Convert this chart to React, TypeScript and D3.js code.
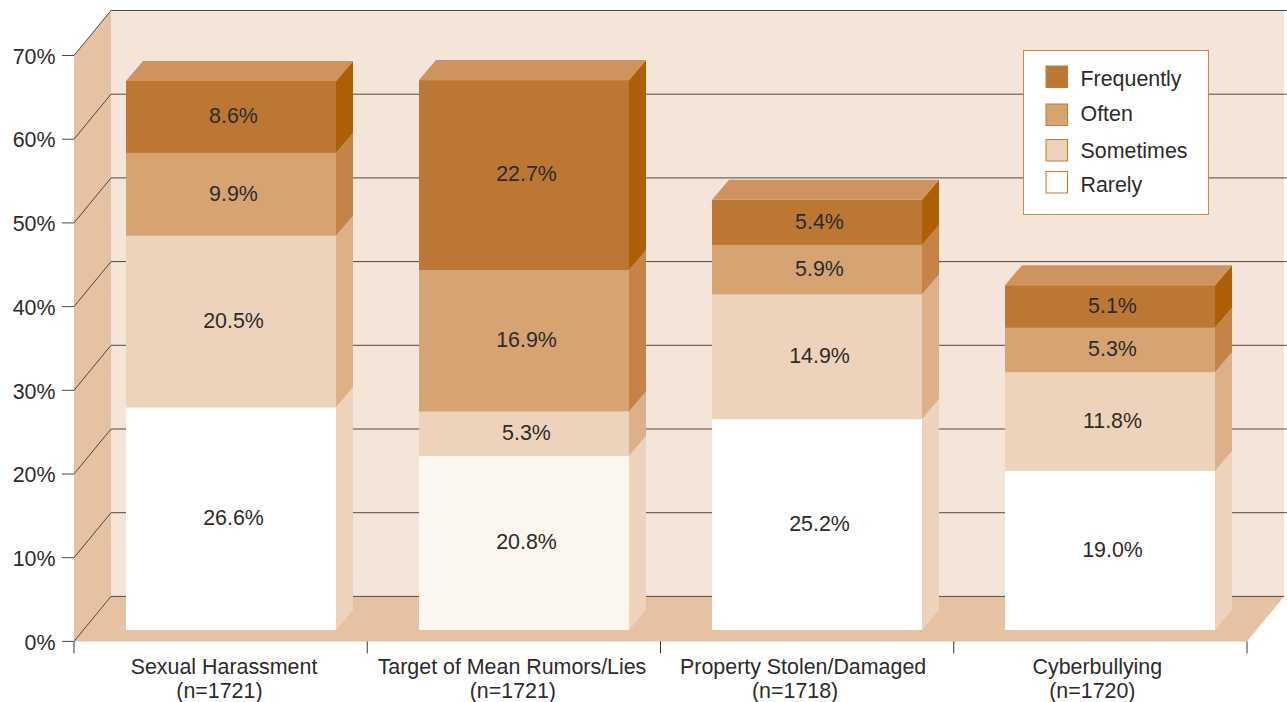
import React from "react";
import * as d3 from "d3";

const categories = ["Sexual Harassment", "Target of Mean Rumors/Lies", "Property Stolen/Damaged", "Cyberbullying"];
const sampleLabels = ["(n=1721)", "(n=1721)", "(n=1718)", "(n=1720)"];
const rarely = [26.6, 20.8, 25.2, 19.0];
const sometimes = [20.5, 5.3, 14.9, 11.8];
const often = [9.9, 16.9, 5.9, 5.3];
const frequently = [8.6, 22.7, 5.4, 5.1];
const yTicks = [0, 10, 20, 30, 40, 50, 60, 70];
const legendLabels = ["Frequently", "Often", "Sometimes", "Rarely"];

const series = [
  { key: "Rarely", values: rarely, front: "#ffffff", side: "#eed3bc" },
  { key: "Sometimes", values: sometimes, front: "#eed3bc", side: "#deb08a" },
  { key: "Often", values: often, front: "#d6a373", side: "#c58347" },
  { key: "Frequently", values: frequently, front: "#bd7735", side: "#ad5f05" },
];
const rarelyFrontByBar = ["#ffffff", "#fcf6f1", "#ffffff", "#ffffff"];
const legendFills = ["#bd7735", "#d6a373", "#eed3bc", "#fdfbf7"];
const labelShift1 = [3.4, -1.9, -4, -3];
const labelShift2 = [-1.2, -1, -12, -8];

const W = 1287, H = 702;
const FONT = "'Liberation Sans', Arial, sans-serif";
const TEXT = "#2e2b2a";
const FS = 21.4;
const WALL = "#f5e5d9", SHADE = "#e6c2a2";
const DX = 37, DY = 45; // chart depth
const BDX = 17, BDY = 20; // bar depth
const BAR_W = 210, BAR_INSET = 52, BAR_LIFT = 11.4;

const y = d3.scaleLinear().domain([0, 70]).range([641.4, 55.5]);
const x = d3.scaleBand<string>().domain(categories).range([74, 1247]).padding(0);
const line = d3.line<[number, number]>();
const poly = (p: [number, number][]) => line(p) + "Z";

const x0 = 74, x1 = 1247;
const y0 = y(0), yT = y(70);

export default function App() {
  const stacks = d3.stack<number>()
    .keys(series.map((_, i) => String(i)))
    .value((i, k) => series[+k].values[i])(categories.map((_, i) => i));

  return (
    <svg width={W} height={H} viewBox={`0 0 ${W} ${H}`}
      style={{ position: "absolute", left: 0, top: 0, display: "block" }} fontFamily={FONT}>
      <rect width={W} height={H} fill="#fff" />
      {/* back wall */}
      <rect x={x0 + DX} y={yT - DY} width={x1 - x0} height={y0 - yT} fill={WALL} />
      {/* left wall */}
      <path d={poly([[x0, y0], [x0, yT], [x0 + DX, yT - DY], [x0 + DX, y0 - DY]])} fill={SHADE} />
      {/* floor */}
      <path d={poly([[x0, y0], [x0 + DX, y0 - DY], [x1 + DX, y0 - DY], [x1, y0]])} fill={SHADE} />
      {/* grid */}
      {yTicks.map((t) => (
        <path key={t} fill="none" stroke="#3d3835" strokeWidth={1} strokeOpacity={0.9}
          d={line([[62, y(t)], [x0, y(t)], [x0 + DX, y(t) - DY], [t === 0 ? x1 + DX : W, y(t) - DY]])!} />
      ))}
      {yTicks.map((t) => (
        <text key={t} x={55.5} y={y(t) + 8.2} fontSize={FS} textAnchor="end" fill={TEXT}>{t}%</text>
      ))}
      {/* x ticks */}
      {[...categories.map((c) => x(c)!), x1].map((v, i) => (
        <line key={i} x1={v} x2={v} y1={y0} y2={y0 + 12} stroke="#3d3835" />
      ))}
      {/* bars */}
      {categories.map((c, i) => {
        const left = Math.floor(x(c)!) + BAR_INSET;
        const right = left + BAR_W;
        return (
          <g key={c}>
            {stacks.map((s, k) => {
              const top = y(s[i][1]) - BAR_LIFT;
              const bot = y(s[i][0]) - BAR_LIFT;
              const front = k === 0 ? rarelyFrontByBar[i] : series[k].front;
              return (
                <g key={k}>
                  <path d={poly([[right, bot], [right, top], [right + BDX, top - BDY], [right + BDX, bot - BDY]])} fill={series[k].side} />
                  <rect x={left} y={top} width={BAR_W} height={bot - top} fill={front} />
                </g>
              );
            })}
            {(() => {
              const top = y(stacks[3][i][1]) - BAR_LIFT;
              return <path d={poly([[left, top], [left + BDX, top - BDY], [right + BDX, top - BDY], [right, top]])} fill="#cf935f" />;
            })()}
            {stacks.map((s, k) => {
              const mid = (y(s[i][0]) + y(s[i][1])) / 2 - BAR_LIFT;
              return (
                <text key={k} x={left + BAR_W / 2 + 2.5} y={mid + 6.4} textAnchor="middle" fontSize={FS} fill={TEXT}>
                  {series[k].values[i].toFixed(1)}%
                </text>
              );
            })}
            <text x={x(c)! + x.bandwidth() / 2 + labelShift1[i]} y={674} textAnchor="middle" fontSize={FS} fill={TEXT}>{c}</text>
            <text x={x(c)! + x.bandwidth() / 2 + labelShift2[i]} y={698} textAnchor="middle" fontSize={FS} fill={TEXT}>{sampleLabels[i]}</text>
          </g>
        );
      })}
      {/* legend */}
      <rect x={1023.5} y={50.5} width={185} height={164} fill="#fff" stroke="#c98a4f" strokeWidth={1} />
      {legendLabels.map((l, i) => {
        const sy = [66, 104, 139.5, 171.5][i];
        const ty = [86, 121, 157.5, 192][i];
        return (
          <g key={l}>
            <rect x={1046} y={sy} width={21.5} height={21.5} fill={legendFills[i]} stroke="#c07c3c" strokeWidth={1} />
            <text x={1080.5} y={ty} fontSize={FS} fill={TEXT}>{l}</text>
          </g>
        );
      })}
    </svg>
  );
}
